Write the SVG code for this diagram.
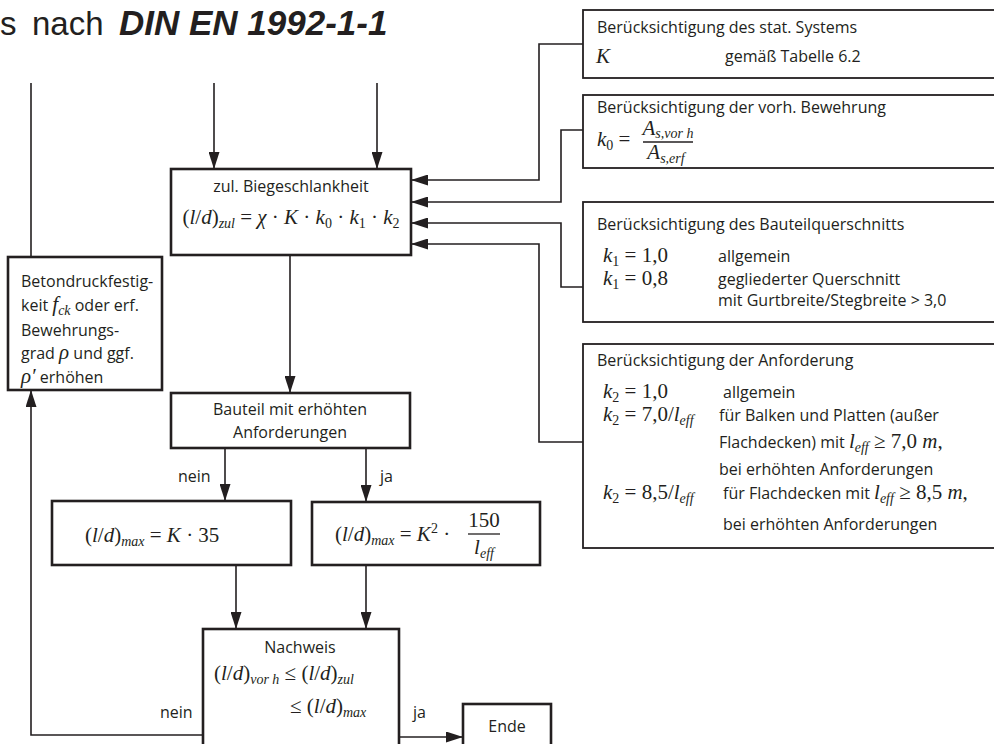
<svg xmlns="http://www.w3.org/2000/svg" width="994" height="744" viewBox="0 0 994 744">
  <defs>
    <style>
      .t { font-family: "Open Sans", "Liberation Sans", sans-serif; font-size: 16px; fill: #231f20; }
      .m { font-family: "Liberation Serif", "DejaVu Serif", serif; font-size: 21px; fill: #231f20; }
      .i { font-style: italic; }
      .s { font-size: 14px; }
      .box { fill: #ffffff; stroke: #231f20; stroke-width: 2.6; }
      .info { fill: #ffffff; stroke: #231f20; stroke-width: 1.8; }
      .c { fill: none; stroke: #231f20; stroke-width: 1.6; }
      .a { marker-end: url(#arrow); }
      .title { font-family: "Liberation Sans", Arial, sans-serif; font-size: 33px; fill: #231f20; }
    </style>
    <marker id="arrow" markerUnits="userSpaceOnUse" markerWidth="17" markerHeight="11" refX="17" refY="5.5" orient="auto">
      <path d="M0,0 L17,5.5 L0,11 z" fill="#231f20"/>
    </marker>
  </defs>
  <rect width="994" height="744" fill="#ffffff"/>

  <!-- heading -->
  <text class="title" y="35"><tspan x="0">s </tspan><tspan x="32">nach </tspan><tspan x="119" font-size="35" font-weight="bold" font-style="italic">DIN EN 1992-1-1</tspan></text>

  <!-- connectors -->
  <g id="connectors">
    <path class="c a" d="M214,83 V169"/>
    <path class="c a" d="M377,83 V169"/>
    <path class="c" d="M31,83 V257"/>
    <path class="c a" d="M583,44 H539 V180 H411"/>
    <path class="c a" d="M583,130 H561 V202 H411"/>
    <path class="c a" d="M583,287 H561 V223 H411"/>
    <path class="c a" d="M583,442 H539 V244 H411"/>
    <path class="c a" d="M290,255 V393"/>
    <path class="c a" d="M225,448 V501"/>
    <path class="c a" d="M366,448 V502"/>
    <path class="c a" d="M236,565 V629"/>
    <path class="c a" d="M366,565 V629"/>
    <path class="c a" d="M399,737 H463"/>
    <path class="c a" d="M203,735 H31 V390"/>
    <text class="t" x="178" y="482">nein</text>
    <text class="t" x="380" y="482">ja</text>
    <text class="t" x="160" y="718">nein</text>
    <text class="t" x="413" y="718">ja</text>
  </g>

  <!-- statical system -->
  <g id="stat-system">
    <rect class="info" x="583" y="10" width="420" height="68"/>
    <text class="t" x="597" y="33">Berücksichtigung des stat. Systems</text>
    <text class="m i" x="596" y="63">K</text>
    <text class="t" x="725" y="62">gemäß Tabelle 6.2</text>
  </g>

  <!-- provided reinforcement -->
  <g id="reinforcement">
    <rect class="info" x="583" y="95" width="420" height="73"/>
    <text class="t" x="597" y="113">Berücksichtigung der vorh. Bewehrung</text>
    <text class="m" x="597" y="146"><tspan class="i">k</tspan><tspan class="s" dy="4">0</tspan><tspan dy="-4"> =</tspan></text>
    <text class="m" x="668" y="135" text-anchor="middle"><tspan class="i">A</tspan><tspan class="s i" dy="3">s,vor h</tspan></text>
    <line x1="643" y1="142" x2="693" y2="142" stroke="#231f20" stroke-width="1.3"/>
    <text class="m" x="666" y="159" text-anchor="middle"><tspan class="i">A</tspan><tspan class="s i" dy="4">s,erf</tspan></text>
  </g>

  <!-- cross section -->
  <g id="cross-section">
    <rect class="info" x="583" y="202" width="420" height="120"/>
    <text class="t" x="597" y="230">Berücksichtigung des Bauteilquerschnitts</text>
    <text class="m" x="603" y="262"><tspan class="i">k</tspan><tspan class="s" dy="4">1</tspan><tspan dy="-4"> = 1,0</tspan></text>
    <text class="t" x="718" y="262">allgemein</text>
    <text class="m" x="603" y="285"><tspan class="i">k</tspan><tspan class="s" dy="4">1</tspan><tspan dy="-4"> = 0,8</tspan></text>
    <text class="t" x="718" y="285">gegliederter Querschnitt</text>
    <text class="t" x="718" y="306">mit Gurtbreite/Stegbreite &gt; 3,0</text>
  </g>

  <!-- requirements -->
  <g id="requirements">
    <rect class="info" x="583" y="344" width="420" height="204"/>
    <text class="t" x="597" y="366">Berücksichtigung der Anforderung</text>
    <text class="m" x="603" y="398"><tspan class="i">k</tspan><tspan class="s" dy="4">2</tspan><tspan dy="-4"> = 1,0</tspan></text>
    <text class="t" x="723" y="398">allgemein</text>
    <text class="m" x="603" y="421"><tspan class="i">k</tspan><tspan class="s" dy="4">2</tspan><tspan dy="-4"> = 7,0/</tspan><tspan class="i">l</tspan><tspan class="s i" dy="4">eff</tspan></text>
    <text class="t" x="719" y="421">für Balken und Platten (außer</text>
    <text class="t" x="719" y="448">Flachdecken) mit <tspan class="m i">l</tspan><tspan class="m s i" dy="4">eff</tspan><tspan class="m" dy="-4"> ≥ 7,0 </tspan><tspan class="m i">m</tspan><tspan class="m">,</tspan></text>
    <text class="t" x="719" y="475">bei erhöhten Anforderungen</text>
    <text class="m" x="603" y="499"><tspan class="i">k</tspan><tspan class="s" dy="4">2</tspan><tspan dy="-4"> = 8,5/</tspan><tspan class="i">l</tspan><tspan class="s i" dy="4">eff</tspan></text>
    <text class="t" x="723" y="499">für Flachdecken mit <tspan class="m i">l</tspan><tspan class="m s i" dy="4">eff</tspan><tspan class="m" dy="-4"> ≥ 8,5 </tspan><tspan class="m i">m</tspan><tspan class="m">,</tspan></text>
    <text class="t" x="723" y="530">bei erhöhten Anforderungen</text>
  </g>

  <!-- permissible slenderness -->
  <g id="slenderness">
    <rect class="box" x="171" y="169" width="240" height="86"/>
    <text class="t" x="291" y="192" text-anchor="middle">zul. Biegeschlankheit</text>
    <text class="m" x="291" y="224" text-anchor="middle">(<tspan class="i">l</tspan>/<tspan class="i">d</tspan>)<tspan class="s i" dy="4">zul</tspan><tspan dy="-4"> = </tspan><tspan class="i">χ</tspan> · <tspan class="i">K</tspan> · <tspan class="i">k</tspan><tspan class="s" dy="4">0</tspan><tspan dy="-4"> · </tspan><tspan class="i">k</tspan><tspan class="s" dy="4">1</tspan><tspan dy="-4"> · </tspan><tspan class="i">k</tspan><tspan class="s" dy="4">2</tspan></text>
  </g>

  <!-- increase strength / reinforcement -->
  <g id="increase">
    <rect class="box" x="8" y="257" width="154" height="133"/>
    <text class="t" x="21" y="287">Betondruckfestig-</text>
    <text class="t" x="21" y="311">keit <tspan class="m i">f</tspan><tspan class="m s i" dy="4">ck</tspan><tspan dy="-4"> oder erf.</tspan></text>
    <text class="t" x="21" y="336">Bewehrungs-</text>
    <text class="t" x="21" y="359">grad <tspan class="m i">ρ</tspan> und ggf.</text>
    <text class="t" x="21" y="383"><tspan class="m i">ρ′</tspan> erhöhen</text>
  </g>

  <!-- increased requirements decision -->
  <g id="requirements-check">
    <rect class="box" x="171" y="393" width="239" height="55"/>
    <text class="t" x="290" y="415" text-anchor="middle">Bauteil mit erhöhten</text>
    <text class="t" x="290" y="438" text-anchor="middle">Anforderungen</text>
  </g>

  <!-- limit without increased requirements -->
  <g id="max-normal">
    <rect class="box" x="52" y="501" width="239" height="64"/>
    <text class="m" x="85" y="542">(<tspan class="i">l</tspan>/<tspan class="i">d</tspan>)<tspan class="s i" dy="4">max</tspan><tspan dy="-4"> = </tspan><tspan class="i">K</tspan> · 35</text>
  </g>

  <!-- limit with increased requirements -->
  <g id="max-increased">
    <rect class="box" x="312" y="502" width="228" height="63"/>
    <text class="m" x="335" y="541">(<tspan class="i">l</tspan>/<tspan class="i">d</tspan>)<tspan class="s i" dy="4">max</tspan><tspan dy="-4"> = </tspan><tspan class="i">K</tspan><tspan class="s" dy="-8">2</tspan><tspan dy="8"> ·</tspan></text>
    <text class="m" x="484" y="527" text-anchor="middle">150</text>
    <line x1="468" y1="534" x2="500" y2="534" stroke="#231f20" stroke-width="1.3"/>
    <text class="m" x="484" y="554" text-anchor="middle"><tspan class="i">l</tspan><tspan class="s i" dy="4">eff</tspan></text>
  </g>

  <!-- verification -->
  <g id="verification">
    <rect class="box" x="203" y="629" width="196" height="120"/>
    <text class="t" x="300" y="653" text-anchor="middle">Nachweis</text>
    <text class="m" x="214" y="680">(<tspan class="i">l</tspan>/<tspan class="i">d</tspan>)<tspan class="s i" dy="4">vor h</tspan><tspan dy="-4"> ≤ (</tspan><tspan class="i">l</tspan>/<tspan class="i">d</tspan>)<tspan class="s i" dy="4">zul</tspan></text>
    <text class="m" x="290" y="713">≤ (<tspan class="i">l</tspan>/<tspan class="i">d</tspan>)<tspan class="s i" dy="4">max</tspan></text>
  </g>

  <!-- end -->
  <g id="end">
    <rect class="box" x="463" y="704" width="88" height="50"/>
    <text class="t" x="507" y="732" text-anchor="middle">Ende</text>
  </g>
</svg>
